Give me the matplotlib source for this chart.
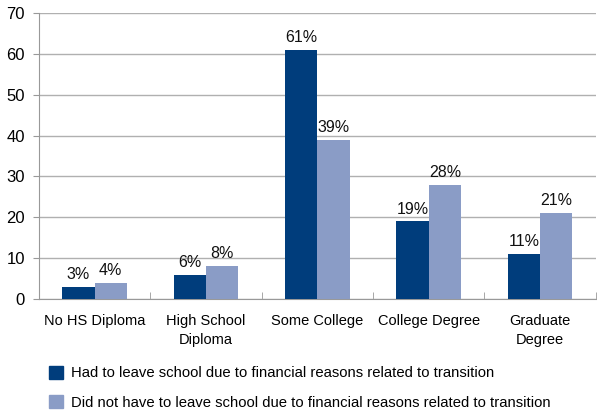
import numpy as np
import matplotlib
matplotlib.use("Agg")
from matplotlib import pyplot as plt
from matplotlib.patches import Patch

plt.rcParams['font.family'] = ['Liberation Sans Narrow', 'Liberation Sans', 'DejaVu Sans']

categories = ['No HS Diploma', 'High School\nDiploma', 'Some College', 'College Degree', 'Graduate\nDegree']
had_to_leave = [3, 6, 61, 19, 11]
did_not_leave = [4, 8, 39, 28, 21]
series_names = ['Had to leave school due to financial reasons related to transition',
                'Did not have to leave school due to financial reasons related to transition']

dark = '#003d7c'
light = '#8a9cc6'

fig = plt.figure(figsize=(5.97, 4.16), dpi=100)
ax = fig.add_axes([0.065, 0.281, 0.933, 0.688])

x = np.arange(len(categories))
w = 0.29
b1 = ax.bar(x - w / 2, had_to_leave, w, color=dark, zorder=3)
b2 = ax.bar(x + w / 2, did_not_leave, w, color=light, zorder=3)
for bars, vals in ((b1, had_to_leave), (b2, did_not_leave)):
    for r, v in zip(bars, vals):
        ax.text(r.get_x() + r.get_width() / 2, v + 1.2, f'{v}%', ha='center', va='bottom',
                fontsize=11.5, color='#111111')

ax.set_ylim(0, 70)
ax.set_xlim(-0.5, len(categories) - 0.5)
ax.set_yticks(range(0, 71, 10))
ax.yaxis.grid(True, color='#b0b0b0', linewidth=1)
ax.set_axisbelow(True)
for s in ['top', 'right']:
    ax.spines[s].set_visible(False)
for s in ['left', 'bottom']:
    ax.spines[s].set_color('#999999')
ax.tick_params(axis='y', length=4, color='#999999', labelsize=12, pad=6)
ax.set_xticks(x)
ax.set_xticklabels(categories, fontsize=10.5, linespacing=1.45)
ax.tick_params(axis='x', length=0, pad=11)
ax.set_xticks(np.arange(len(categories) + 1) - 0.5, minor=True)
ax.tick_params(axis='x', which='minor', length=5, color='#999999', direction='in')

handles = [Patch(color=dark), Patch(color=light)]
fig.legend(handles, series_names, loc='upper left', bbox_to_anchor=(0.072, 0.135),
           frameon=False, fontsize=10.7, handlelength=0.95, handleheight=0.95,
           handletextpad=0.55, labelspacing=1.0, borderaxespad=0)

fig.savefig('out.png', dpi=100)
